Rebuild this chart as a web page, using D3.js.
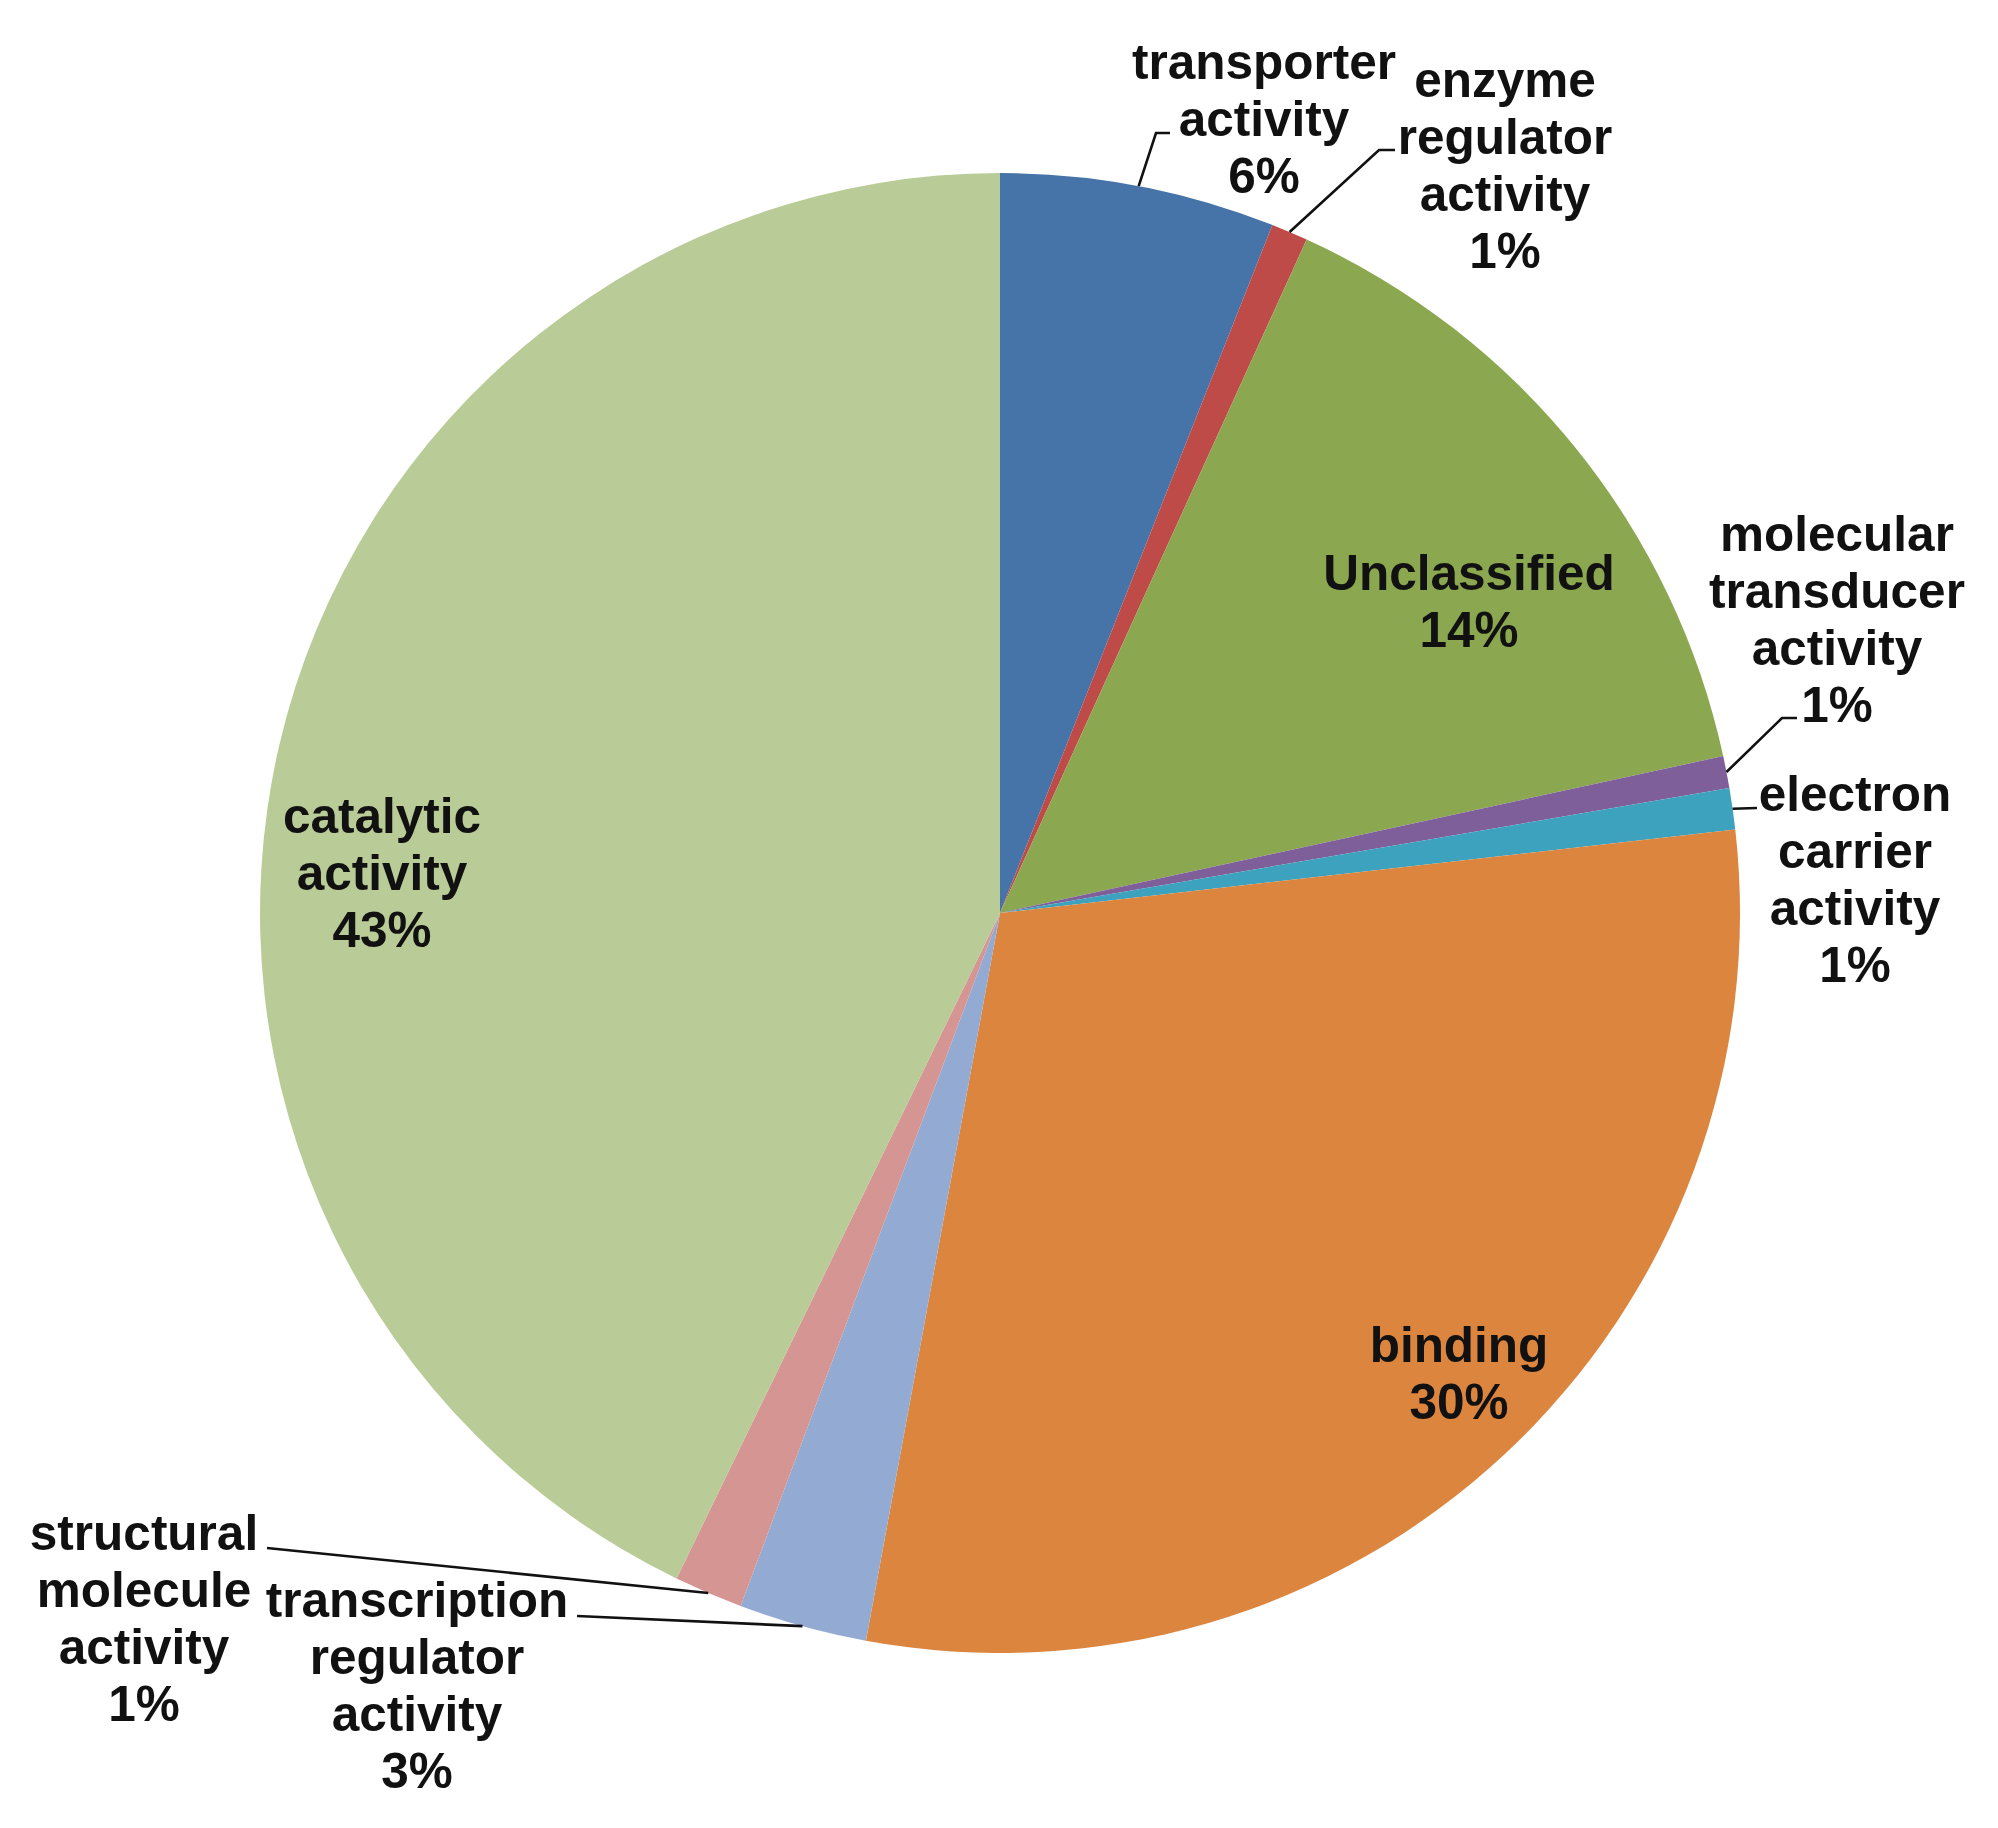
<!DOCTYPE html>
<html lang="en">
<head>
<meta charset="UTF-8">
<title>Molecular function pie</title>
<script src="https://d3js.org/d3.v7.min.js"></script>
<style>
  body { margin: 0; background: #fff; }
  text { font-family: "Liberation Sans", Arial, sans-serif; font-weight: bold; font-size: 49.5px; fill: #111; }
</style>
</head>
<body>
<script>
// slices, clockwise from 12 o'clock
var categories = ["transporter activity", "enzyme regulator activity", "Unclassified",
  "molecular transducer activity", "electron carrier activity", "binding",
  "transcription regulator activity", "structural molecule activity", "catalytic activity"];
var shares = [6.0, 0.8, 14.8, 0.7, 0.9, 29.7, 2.8, 1.5, 42.8];
var pctLabels = ["6%", "1%", "14%", "1%", "1%", "30%", "3%", "1%", "43%"];
var nameLines = [
  ["transporter", "activity"],
  ["enzyme", "regulator", "activity"],
  ["Unclassified"],
  ["molecular", "transducer", "activity"],
  ["electron", "carrier", "activity"],
  ["binding"],
  ["transcription", "regulator", "activity"],
  ["structural", "molecule", "activity"],
  ["catalytic", "activity"]
];
var colors = ["#4774a8", "#be4b48", "#8ba74f", "#7e5f9a", "#3ca2bd",
  "#dc853f", "#93abd2", "#d59593", "#b9cc97"];

var width = 1998, height = 1828;
var cx = 1000, cy = 913, radius = 740;
var lineH = 57;

// label placement: x = centre of text, y = centre of first line; leader = points after the rim
var layout = [
  { x: 1264, y: 61, leader: [[1156, 133], [1170, 133]] },
  { x: 1505, y: 79, leader: [[1379, 150], [1395, 150]] },
  { x: 1469, y: 572 },
  { x: 1837, y: 533, leader: [[1782, 718], [1797, 718]] },
  { x: 1855, y: 793, leader: [[1757, 808]] },
  { x: 1459, y: 1344 },
  { x: 417, y: 1599, leader: [[577, 1616]] },
  { x: 144, y: 1532, leader: [[267, 1548]] },
  { x: 382, y: 815 }
];

var svg = d3.select("body").append("svg")
  .attr("width", width)
  .attr("height", height);

var pie = d3.pie().sort(null).value(function (d) { return d; });
var arcs = pie(shares);
var arc = d3.arc().innerRadius(0).outerRadius(radius);

var g = svg.append("g").attr("transform", "translate(" + cx + "," + cy + ")");

g.selectAll("path.slice")
  .data(arcs)
  .enter()
  .append("path")
  .attr("class", "slice")
  .attr("d", arc)
  .style("fill", function (d, i) { return colors[i]; });

// leader lines start on the rim at each slice's middle angle
var line = d3.line();
arcs.forEach(function (d, i) {
  var l = layout[i];
  if (!l.leader) return;
  var a = (d.startAngle + d.endAngle) / 2;
  var start = [cx + radius * Math.sin(a), cy - radius * Math.cos(a)];
  svg.append("path")
    .attr("d", line([start].concat(l.leader)))
    .style("fill", "none")
    .style("stroke", "#111")
    .style("stroke-width", 2.6);
});

// labels
categories.forEach(function (c, i) {
  var lines = nameLines[i].concat([pctLabels[i]]);
  var t = svg.append("text")
    .attr("text-anchor", "middle")
    .attr("x", layout[i].x)
    .attr("y", layout[i].y + 18);
  lines.forEach(function (s, k) {
    t.append("tspan")
      .attr("x", layout[i].x)
      .attr("dy", k === 0 ? 0 : lineH)
      .text(s);
  });
});
</script>
</body>
</html>
